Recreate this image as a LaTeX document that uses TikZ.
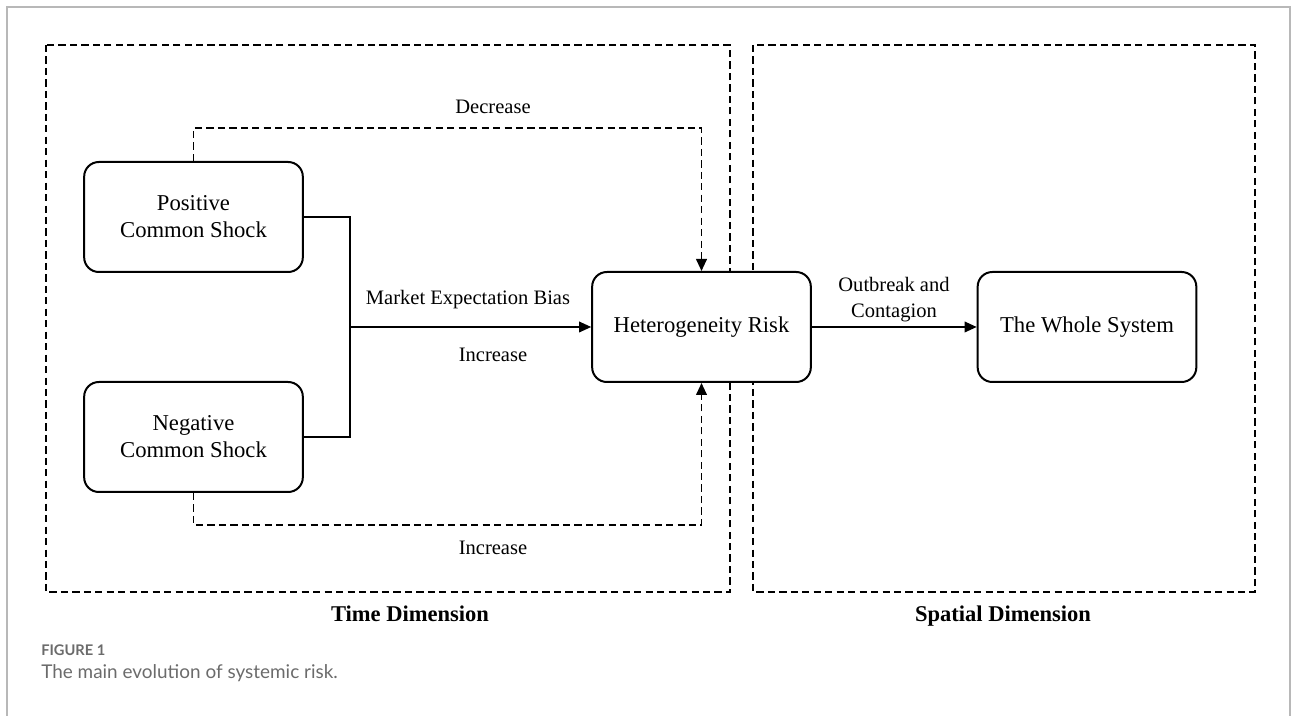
\documentclass[tikz,border=0pt]{standalone}
\usepackage{fontspec}
\setmainfont{Liberation Serif}
\newfontfamily\capfont{Lato}
\usetikzlibrary{arrows.meta}
\definecolor{framegray}{gray}{0.72}
\definecolor{capgray}{gray}{0.42}
\tikzset{
  box/.style={draw, line width=1.5pt, rounded corners=11pt, fill=white,
    minimum width=164pt, minimum height=82.5pt, align=center, inner sep=0pt,
    font=\fontsize{17}{20.3}\selectfont},
  dimbox/.style={draw, dash pattern=on 5.4pt off 3.2pt, line width=1.4pt},
  dashlink/.style={draw, dash pattern=on 5.4pt off 3.2pt, line width=1.4pt},
  link/.style={draw, line width=1pt},
  tip/.style={-{Triangle[length=9pt,width=8pt]}},
  lab/.style={font=\fontsize{15.4}{19.5}\selectfont, align=center, inner sep=0pt},
  dimlab/.style={font=\fontsize{16.9}{20}\selectfont\bfseries, inner sep=0pt, anchor=base},
}
\begin{document}
\begin{tikzpicture}[x=0.75pt, y=-0.75pt]
\useasboundingbox (0,0) rectangle (1293,716);
% outer frame (open at bottom)
\draw[framegray, line width=1.1pt] (7,716) -- (7,7) -- (1290,7) -- (1290,716);
% dimension boxes
\draw[dimbox] (46,45) rectangle (730,592);
\draw[dimbox] (753,45) rectangle (1255,592);
% nodes
\node[box] (P) at (193.5,217) {Positive\\Common Shock};
\node[box] (N) at (193.5,437) {Negative\\Common Shock};
\node[box] (H) at (701.5,327) {Heterogeneity Risk};
\node[box] (W) at (1087,327) {The Whole System};
\coordinate (J) at (350,327);
\coordinate (Dt) at (193.5,128);
\coordinate (Db) at (193.5,525);
% connectors
\draw[link] (P.east) -| (J) |- (N.east);
\draw[link, tip] (J) -- (H.west);
\draw[link, tip] (H.east) -- (W.west);
\draw[dashlink, tip] (P.north) -- (Dt) -| (H.north);
\draw[dashlink, tip] (N.south) -- (Db) -| (H.south);
% labels
\node[lab] (lmeb) at (468,300) {Market Expectation Bias};
\node[lab] (linc) at (493,355) {Increase};
\node[lab] (ldec) at (493,107) {Decrease};
\node[lab] (linc2) at (493,548) {Increase};
\node[lab] (lout) at (894,300) {Outbreak and\\Contagion};
\node[dimlab] (ltime) at (410,621) {Time Dimension};
\node[dimlab] (lspace) at (1003,621) {Spatial Dimension};
% caption
\node[anchor=west, inner sep=0pt, text=capgray, font=\capfont\bfseries\fontsize{11}{13}\selectfont] (fig) at (41,650) {FIGURE 1};
\node[anchor=west, inner sep=0pt, text=capgray, font=\capfont\fontsize{14.2}{16}\selectfont] (cap) at (41,673) {The main evolution of systemic risk.};
\end{tikzpicture}
\end{document}
